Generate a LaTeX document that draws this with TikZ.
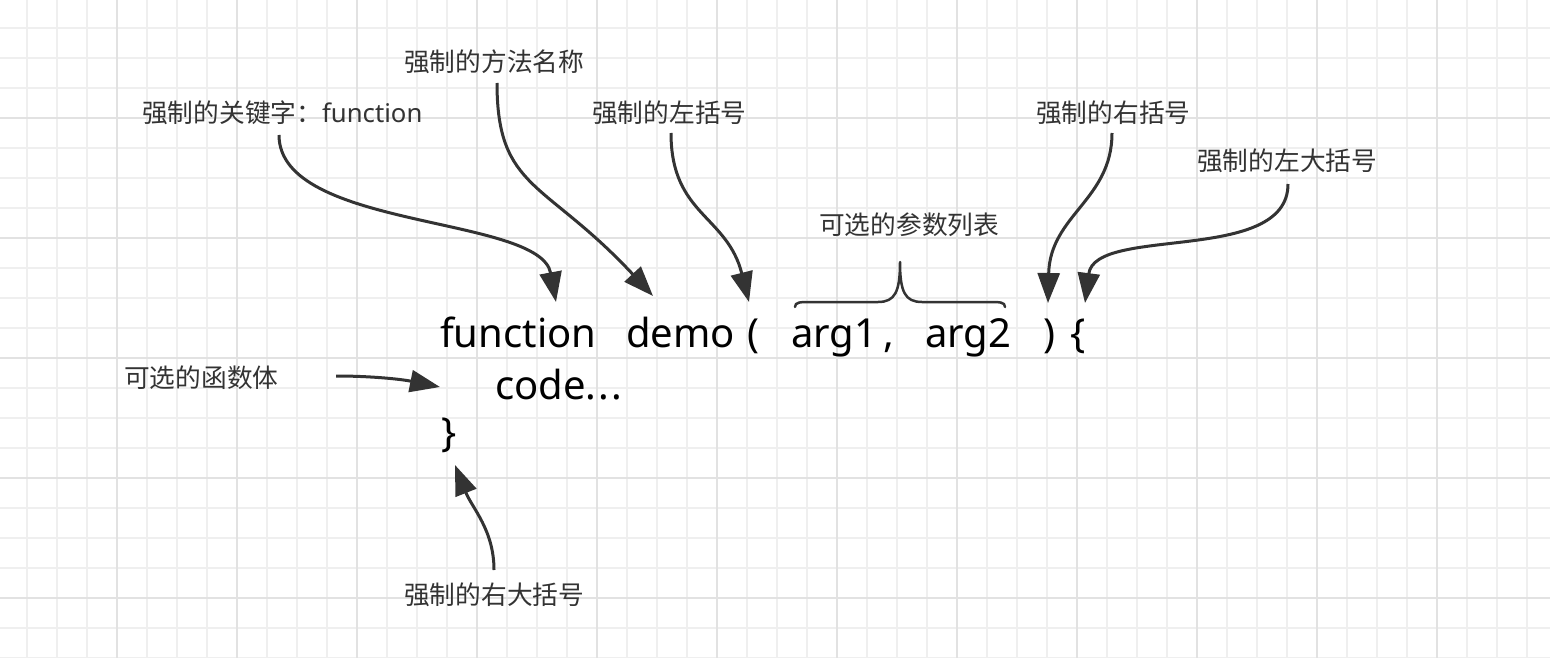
\documentclass[tikz,border=0pt]{standalone}
\usepackage{fontspec}
\newfontfamily\cjkfont{Noto Sans CJK SC}
\newfontfamily\latinfont{Noto Sans}
\usetikzlibrary{arrows.meta}
\definecolor{gridminor}{HTML}{EFEFEF}
\definecolor{gridmajor}{HTML}{E2E2E2}
\definecolor{ink}{HTML}{333333}
\begin{document}
\begin{tikzpicture}[x=1pt,y=-1pt,
  lbl/.style={anchor=west, inner sep=0pt, text=ink, font=\cjkfont\fontsize{25.7}{30}\selectfont},
  code/.style={anchor=base west, inner sep=0pt, text=black, font=\latinfont\fontsize{40}{48}\selectfont},
  callout/.style={draw=ink, line width=3pt, -{Triangle[length=30pt,width=22pt]}},
  minorline/.style={draw=gridminor, line width=1.5pt},
  majorline/.style={draw=gridmajor, line width=2pt},
]
\useasboundingbox (0,0) rectangle (1550,658);
\fill[white] (0,0) rectangle (1550,658);
% grid
\foreach \x in {27,57,...,1547} \draw[minorline] (\x,0) -- (\x,658);
\foreach \y in {28,58,...,658} \draw[minorline] (0,\y) -- (1550,\y);
\foreach \x in {117,237,...,1437} \draw[majorline] (\x,0) -- (\x,658);
\foreach \y in {118,238,...,598} \draw[majorline] (0,\y) -- (1550,\y);

% labels
\node[lbl] (L1) at (142,113) {强制的关键字：{\latinfont function}};
\node[lbl] (L2) at (404,62) {强制的方法名称};
\node[lbl] (L3) at (592,113) {强制的左括号};
\node[lbl] (L4) at (1036,113) {强制的右括号};
\node[lbl] (L5) at (1197,161) {强制的左大括号};
\node[lbl] (L6) at (819,225) {可选的参数列表};
\node[lbl] (L7) at (124,378) {可选的函数体};
\node[lbl] (L8) at (404,595) {强制的右大括号};

% code
\node[code] (kw) at (440,347) {function};
\node[code] (name) at (626,347) {demo};
\node[code] (lp) at (747,347) {(};
\node[code] (a1) at (791,347) {arg1};
\node[code] (cm) at (883,347) {,};
\node[code] (a2) at (925,347) {arg2};
\node[code] (rp) at (1043,347) {)};
\node[code] (lb) at (1070,347) {\{};
\node[code] (body) at (495,399) {code.\kern2pt.\kern2pt.};
\node[code] (rb) at (441,446) {\}};

% connector end points
\coordinate (s1) at (279,135);
\coordinate (e1) at (556,302);
\coordinate (s2) at (497,83);
\coordinate (e2) at (653,296);
\coordinate (s3) at (671,133);
\coordinate (e3) at (749,302);
\coordinate (s4) at (1112,133);
\coordinate (e4) at (1048,303);
\coordinate (s5) at (1288,184);
\coordinate (e5) at (1085,303);
\coordinate (s6) at (336,376);
\coordinate (e6) at (440,387);
\coordinate (s7) at (494,570);
\coordinate (e7) at (455,465);

\draw[callout] (s1) .. controls (279,230) and (540,215) .. (e1);
\draw[callout] (s2) .. controls (497,190) and (545,180) .. (e2);
\draw[callout] (s3) .. controls (671,215) and (727,215) .. (e3);
\draw[callout] (s4) .. controls (1112,200) and (1050,215) .. (e4);
\draw[callout] (s5) .. controls (1288,265) and (1095,225) .. (e5);
\draw[callout] (s6) .. controls (370,376) and (400,379) .. (e6);
\draw[callout] (s7) .. controls (494,530) and (472,508) .. (e7);

% brace over parameters
\coordinate (bl) at (795,307);
\coordinate (bt) at (900,262);
\coordinate (br) at (1005,307);
\draw[draw=ink, line width=2.5pt, line cap=round, line join=round]
  (bl) .. controls (795,302) and (800,302) .. (812,302) -- (878,302)
  .. controls (895,302) and (900,292) .. (bt)
  .. controls (900,292) and (905,302) .. (922,302) -- (988,302)
  .. controls (1000,302) and (1005,302) .. (br);
\end{tikzpicture}
\end{document}
